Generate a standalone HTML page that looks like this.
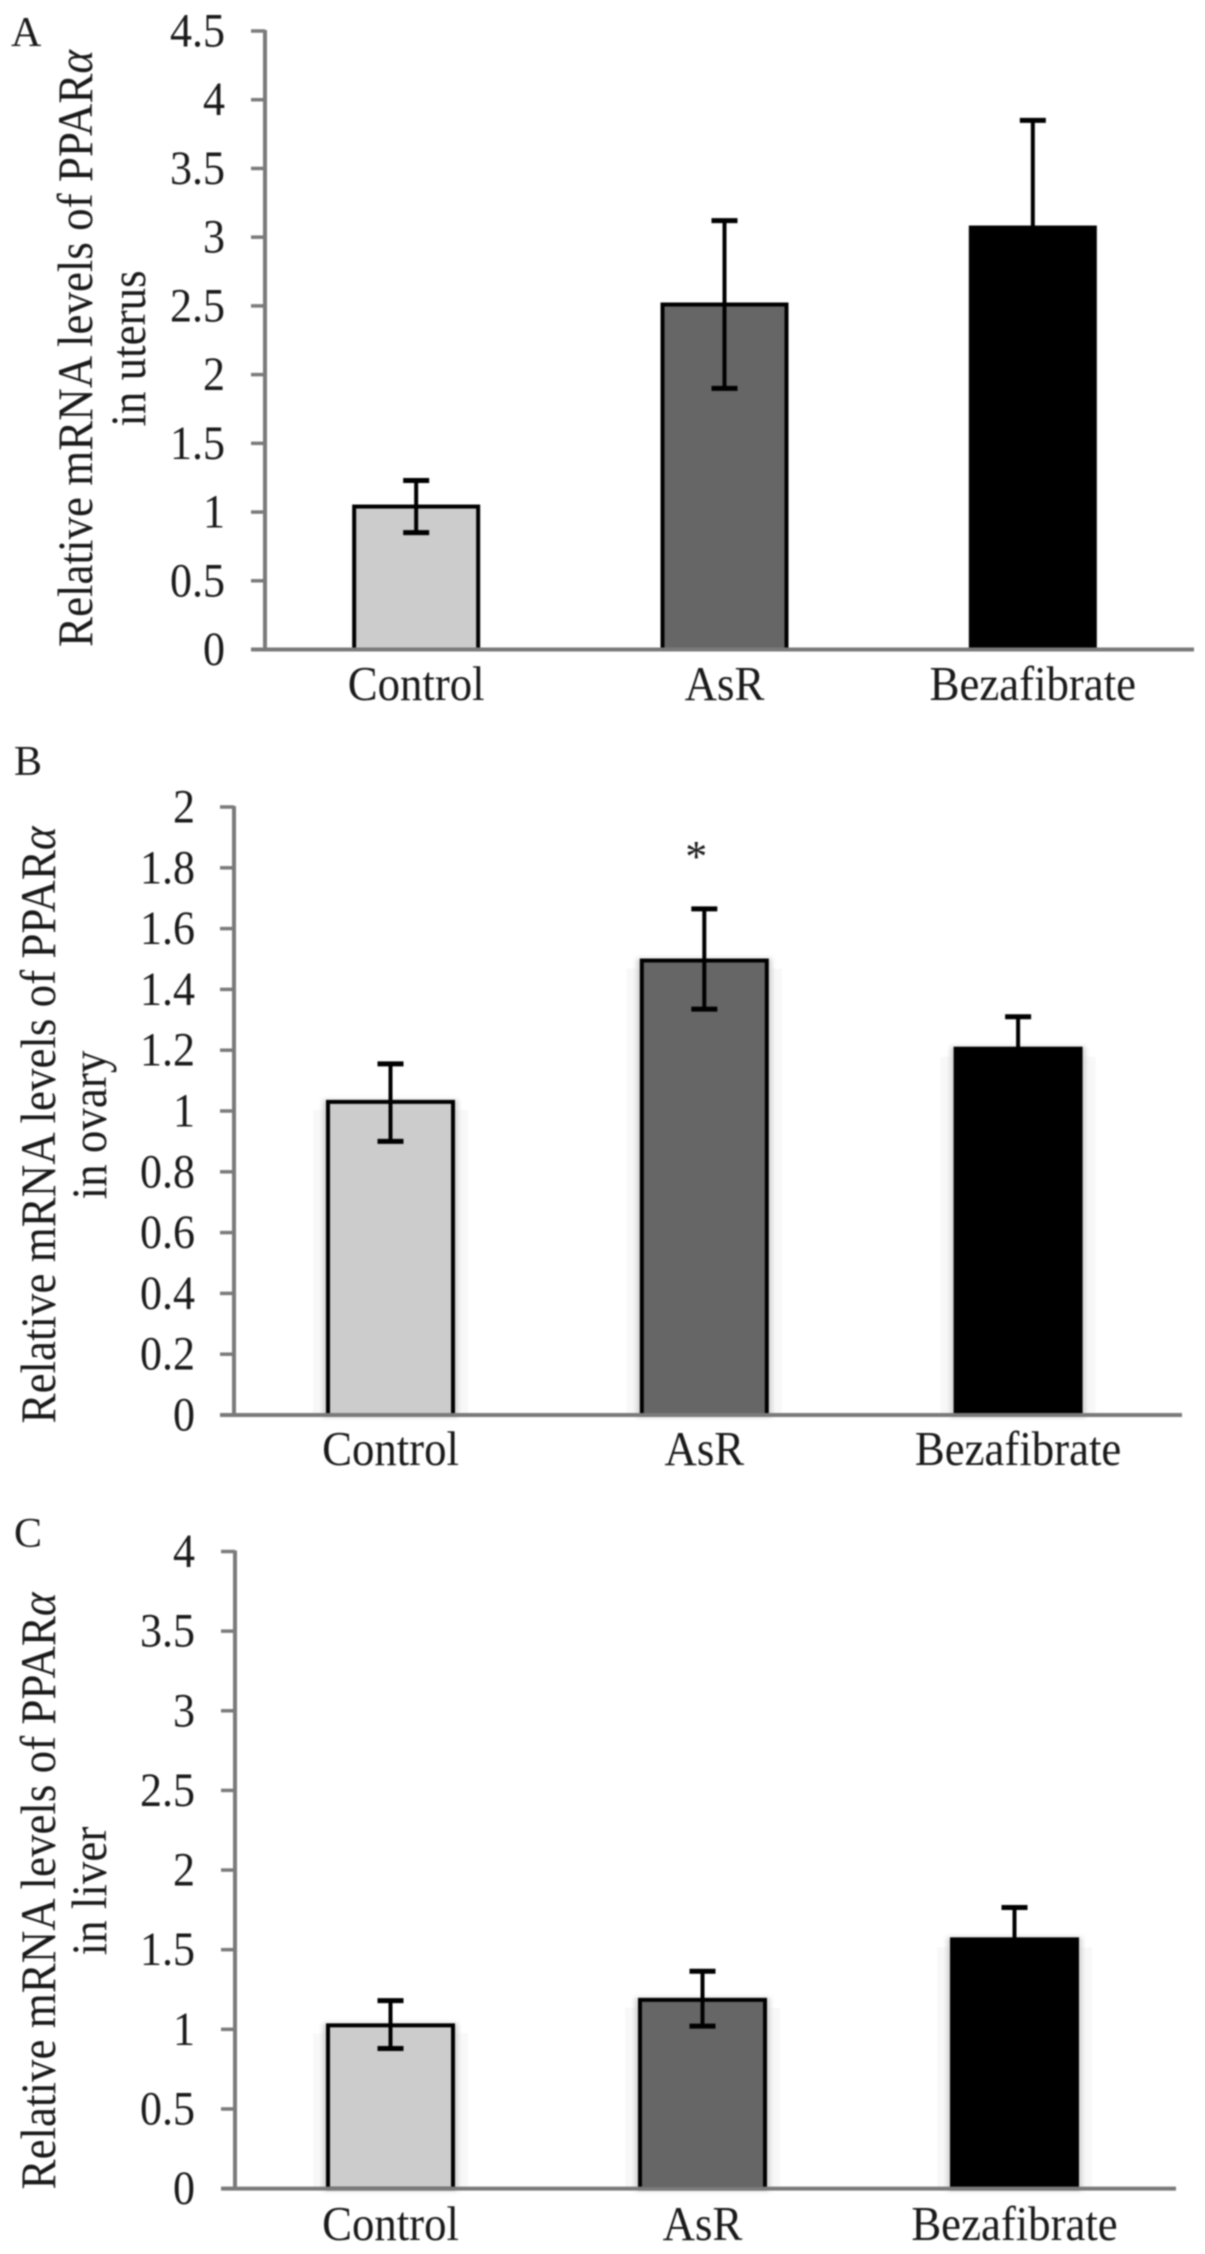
<!DOCTYPE html>
<html>
<head>
<meta charset="utf-8">
<title>Relative PPARα mRNA levels</title>
<style>
html,body{margin:0;padding:0;background:#fff;width:1205px;height:2254px;overflow:hidden}
svg{display:block;position:absolute;left:0;top:0;filter:blur(0.75px)}
text{font-family:"Liberation Serif",serif;fill:#1a1a1a}
</style>
</head>
<body>
<svg id="figure" xmlns="http://www.w3.org/2000/svg" width="1205" height="2254" viewBox="0 0 1205 2254"></svg>
<script>
const categories = ['Control', 'AsR', 'Bezafibrate'];
const barFills = ['#cccccc', '#666666', '#000000'];

const uterusTicks = ['0', '0.5', '1', '1.5', '2', '2.5', '3', '3.5', '4', '4.5'];
const uterusValues = [1.04, 2.51, 3.07];
const uterusErrorHigh = [1.23, 3.12, 3.85];
const uterusErrorLow = [0.85, 1.90, 2.29];

const ovaryTicks = ['0', '0.2', '0.4', '0.6', '0.8', '1', '1.2', '1.4', '1.6', '1.8', '2'];
const ovaryValues = [1.03, 1.495, 1.205];
const ovaryErrorHigh = [1.155, 1.665, 1.31];
const ovaryErrorLow = [0.90, 1.335, 1.10];

const liverTicks = ['0', '0.5', '1', '1.5', '2', '2.5', '3', '3.5', '4'];
const liverValues = [1.025, 1.185, 1.565];
const liverErrorHigh = [1.18, 1.365, 1.765];
const liverErrorLow = [0.88, 1.02, 1.37];

const NS = 'http://www.w3.org/2000/svg';
const root = document.getElementById('figure');

function make(parent, tag, attrs) {
  const el = document.createElementNS(NS, tag);
  for (const k in attrs) el.setAttribute(k, attrs[k]);
  parent.appendChild(el);
  return el;
}

function drawPanel(o) {
  const g = make(root, 'g', {});
  
  

  const tickNums = o.ticks.map(Number);
  const yMax = Math.max.apply(null, tickNums);
  const yScale = v => o.bottom - (v / yMax) * (o.bottom - o.top);
  const band = (o.plotRight - o.plotLeft) / categories.length;
  const xScale = i => o.plotLeft + band * (i + 0.5);

  // panel letter
  const letter = make(g, 'text', {x: o.letterX, y: o.letterY, 'font-size': 42});
  letter.textContent = o.letter;
  
  

  // y axis title
  const t1 = make(g, 'text', {'font-size': 45, 'text-anchor': 'middle', transform: 'translate(' + o.title1X + ' ' + o.titleY + ') rotate(-90) scale(1 1.1)'});
  t1.appendChild(document.createTextNode('Relative mRNA levels of PPAR'));
  const alpha = make(t1, 'tspan', {'font-style': 'italic'});
  alpha.textContent = 'α';
  
  

  const t2 = make(g, 'text', {'font-size': 45, 'text-anchor': 'middle', transform: 'translate(' + o.title2X + ' ' + o.titleY + ') rotate(-90) scale(1 1.1)'});
  t2.textContent = 'in ' + o.organ;
  
  

  // bars
  categories.forEach((name, i) => {
    const cx = xScale(i);
    const yTop = yScale(o.values[i]);
    if (o.glow) {
      const halo = make(g, 'rect', {x: cx - o.barW / 2 - 15, y: yTop + 8, width: o.barW + 30, height: o.bottom - yTop - 6, fill: '#f8f8f8'});
      
      
      const glow = make(g, 'rect', {x: cx - o.barW / 2 - 5, y: yTop - 2, width: o.barW + 10, height: o.bottom - yTop + 4, fill: '#c8c8c8', opacity: 0.8, style: 'filter:blur(2.5px)'});
      
      
    }
    const bar = make(g, 'rect', {x: cx - o.barW / 2, y: yTop, width: o.barW, height: o.bottom - yTop, fill: barFills[i], stroke: '#000', 'stroke-width': 4});
    
    
  });

  // axes and ticks
  const yAxis = make(g, 'line', {x1: o.axisX, x2: o.axisX, y1: o.top - 1, y2: o.bottom, stroke: '#7a7a7a', 'stroke-width': 4});
  
  
  const xAxis = make(g, 'line', {x1: o.axisX - 14, x2: o.axisRight, y1: o.bottom, y2: o.bottom, stroke: '#7a7a7a', 'stroke-width': 4});
  
  

  o.ticks.forEach((label, i) => {
    const y = yScale(tickNums[i]);
    const tick = make(g, 'line', {x1: o.axisX - 14, x2: o.axisX, y1: y, y2: y, stroke: '#7a7a7a', 'stroke-width': 3.5});
    
    
    const tl = make(g, 'text', {'font-size': 44, 'text-anchor': 'end', transform: 'translate(' + o.tickLabelX + ' ' + (y + 15.5) + ') scale(1 1.08)'});
    tl.textContent = label;
    
    
  });

  // error bars
  categories.forEach((name, i) => {
    const cx = xScale(i);
    const hi = yScale(o.high[i]);
    const lo = yScale(o.low[i]);
    const stem = make(g, 'line', {x1: cx, x2: cx, y1: hi, y2: lo, stroke: '#000', 'stroke-width': 4});
    
    
    [hi, lo].forEach(y => {
      const cap = make(g, 'line', {x1: cx - 13, x2: cx + 13, y1: y, y2: y, stroke: '#000', 'stroke-width': 5});
      
      
    });
    const label = make(g, 'text', {'font-size': 44.8, 'text-anchor': 'middle', transform: 'translate(' + cx + ' ' + o.catY + ') scale(1 1.08)'});
    label.textContent = name;
    
    
  });

  // significance marker
  if (o.star !== undefined) {
    const star = make(g, 'text', {x: xScale(o.star) - 8, y: yScale(o.high[o.star]) - 38, 'font-size': 44, 'text-anchor': 'middle'});
    star.textContent = '*';
    
    
  }
}

drawPanel({key: 'uterus', letter: 'A', organ: 'uterus', ticks: uterusTicks, values: uterusValues, high: uterusErrorHigh, low: uterusErrorLow,
  axisX: 265, axisRight: 1194, plotLeft: 262, plotRight: 1187, top: 31, bottom: 649.5, barW: 124, tickLabelX: 225, catY: 700, letterX: 11, letterY: 46,
  title1X: 92, title2X: 145, titleY: 348.5, glow: false});
drawPanel({key: 'ovary', letter: 'B', organ: 'ovary', ticks: ovaryTicks, values: ovaryValues, high: ovaryErrorHigh, low: ovaryErrorLow,
  axisX: 234, axisRight: 1182, plotLeft: 233.6, plotRight: 1175, top: 807, bottom: 1415, barW: 125, tickLabelX: 195, catY: 1465, letterX: 14, letterY: 775,
  title1X: 55, title2X: 106, titleY: 1125, glow: true, star: 1});
drawPanel({key: 'liver', letter: 'C', organ: 'liver', ticks: liverTicks, values: liverValues, high: liverErrorHigh, low: liverErrorLow,
  axisX: 235, axisRight: 1176, plotLeft: 234.5, plotRight: 1170.5, top: 1551.5, bottom: 2188.6, barW: 125, tickLabelX: 195, catY: 2240, letterX: 14, letterY: 1547,
  title1X: 55, title2X: 106, titleY: 1891, glow: true});
</script>
</body>
</html>
